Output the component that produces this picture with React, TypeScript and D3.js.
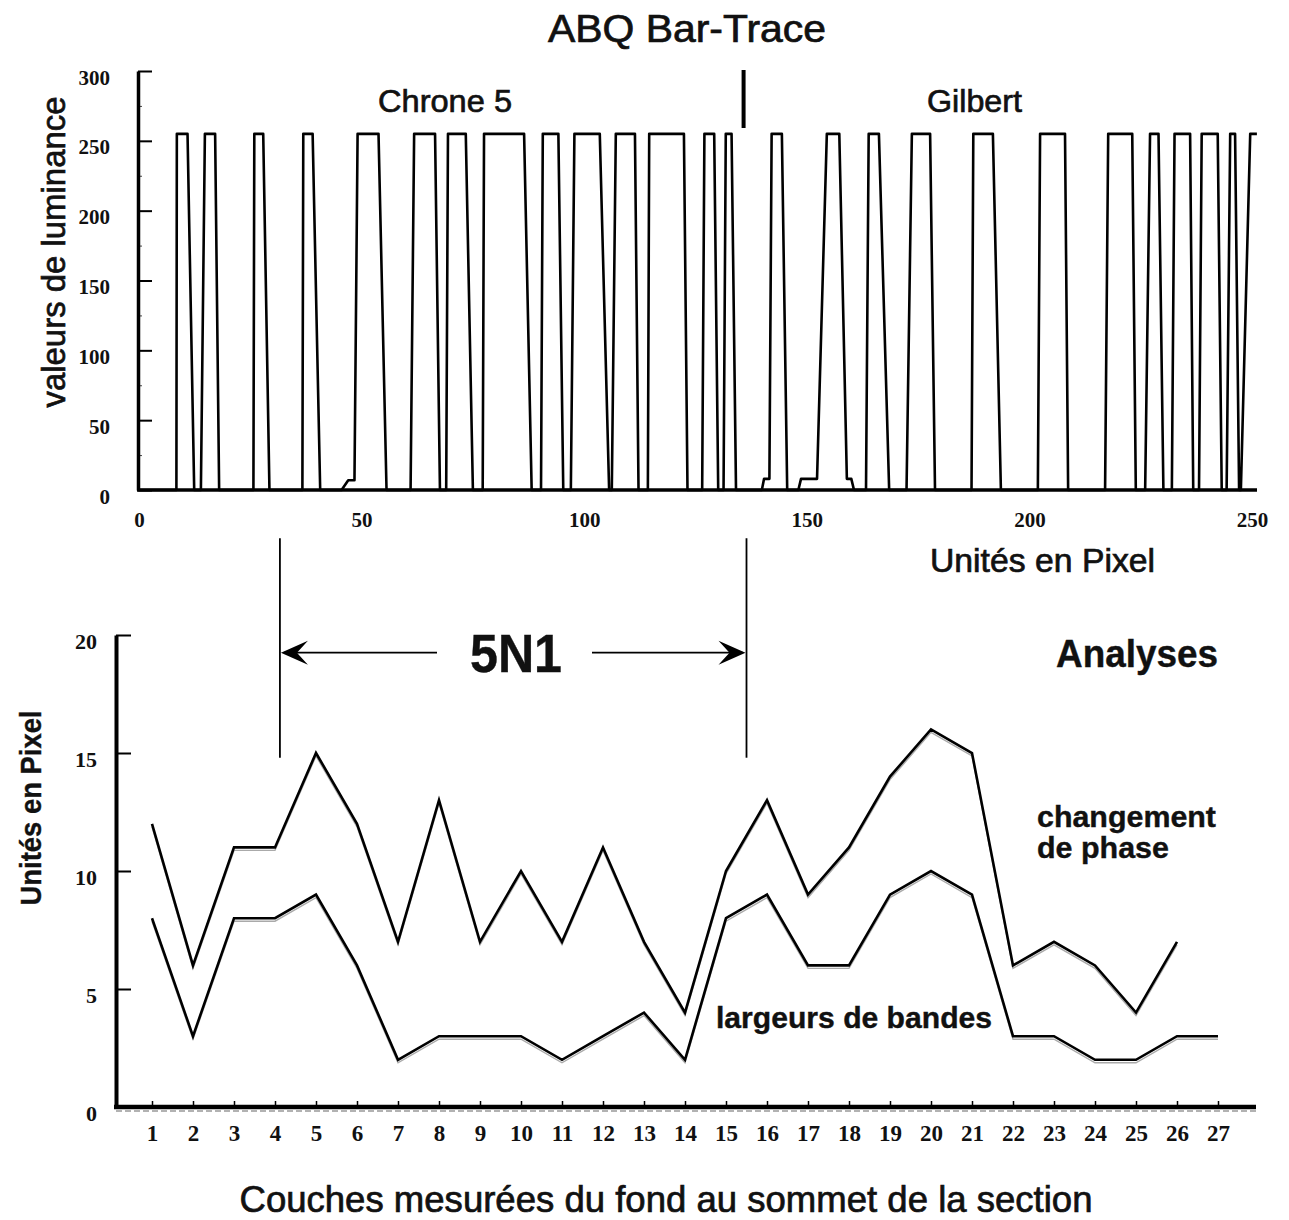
import React, { useEffect, useRef } from 'react';
import * as d3 from 'd3';

// Top panel: luminance bar-trace, [pixel unit, luminance]
const tracePoints: [number, number][] = [
  [0, 0],
  [8.4, 0], [8.5, 255], [10.9, 255], [12.4, 0],
  [13.9, 0], [14.8, 255], [17.1, 255], [18.0, 0],
  [25.7, 0], [25.9, 255], [27.9, 255], [29.3, 0],
  [36.7, 0], [36.9, 255], [39.0, 255], [40.7, 0],
  [45.5, 0], [47.0, 7], [48.4, 7], [49.1, 255], [53.8, 255], [55.6, 0],
  [61.0, 0], [61.8, 255], [66.5, 255], [67.6, 0],
  [69.0, 0], [69.4, 255], [73.4, 255], [75.0, 0],
  [77.2, 0], [77.5, 255], [86.5, 255], [88.2, 0],
  [90.3, 0], [90.7, 255], [94.2, 255], [95.3, 0],
  [97.0, 0], [97.8, 255], [103.5, 255], [105.6, 0],
  [106.2, 0], [107.1, 255], [111.4, 255], [112.2, 0],
  [114.3, 0], [114.6, 255], [122.4, 255], [123.2, 0],
  [126.5, 0], [127.0, 255], [129.2, 255], [130.1, 0],
  [131.3, 0], [131.8, 255], [133.1, 255], [134.1, 0],
  [139.9, 0], [140.4, 8], [141.6, 8], [142.1, 255], [144.4, 255], [145.6, 0],
  [148.1, 0], [148.7, 8], [152.3, 8], [154.5, 255], [157.3, 255], [159.0, 8], [160.0, 8], [160.6, 0],
  [163.3, 0], [163.9, 255], [166.2, 255], [168.5, 0],
  [172.4, 0], [173.6, 255], [177.7, 255], [178.8, 0],
  [187.0, 0], [187.4, 255], [191.8, 255], [193.6, 0],
  [201.9, 0], [202.4, 255], [208.0, 255], [208.7, 0],
  [217.0, 0], [217.7, 255], [223.1, 255], [223.9, 0],
  [226.0, 0], [227.1, 255], [229.0, 255], [230.1, 0],
  [232.0, 0], [232.6, 255], [236.1, 255], [236.8, 0],
  [238.1, 0], [238.7, 255], [242.3, 255], [243.2, 0],
  [244.3, 0], [245.1, 255], [246.2, 255], [247.1, 0],
  [247.5, 0], [249.6, 255], [251.1, 255],
];
const traceXTicks = [0, 50, 100, 150, 200, 250];
const traceYTicks = [0, 50, 100, 150, 200, 250, 300];
const traceYMinor = [25, 75, 125, 175, 225, 275];
const chroneGilbertBoundary = 135.8;

// Bottom panel: analyses per layer
const layers = [1, 2, 3, 4, 5, 6, 7, 8, 9, 10, 11, 12, 13, 14, 15, 16, 17, 18, 19, 20, 21, 22, 23, 24, 25, 26, 27];
const phaseChange = [12, 6, 11, 11, 15, 12, 7, 13, 7, 10, 7, 11, 7, 4, 10, 13, 9, 11, 14, 16, 15, 6, 7, 6, 4, 7];
const bandWidths = [8, 3, 8, 8, 9, 6, 2, 3, 3, 3, 2, 3, 4, 2, 8, 9, 6, 6, 9, 10, 9, 3, 3, 2, 2, 3, 3];
const analysisYTicks = [0, 5, 10, 15, 20];
const sectionBounds = [4.12, 15.5]; // 5N1 section, in layer units
const sectionLineSpan = [14.8, 24.1];
const arrowLevel = 19.25;

const SANS = "'Liberation Sans', Arial, Helvetica, sans-serif";
const SERIF = "'Liberation Serif', 'Times New Roman', serif";

const App = () => {
  const ref = useRef<SVGSVGElement | null>(null);

  useEffect(() => {
    const svg = d3.select(ref.current);
    svg.selectAll('*').remove();

    // ---------- top panel ----------
    const top = { left: 139, right: 1252, top: 71, bottom: 490 };
    const xTop = d3.scaleLinear().domain([0, 250]).range([top.left, top.right]);
    const yTop = d3.scaleLinear().domain([0, 300]).range([top.bottom, top.top]);

    // minor ticks
    svg
      .append('g')
      .attr('transform', 'translate(' + (top.left - 1) + ',0)')
      .call(d3.axisLeft(yTop).tickValues(traceYMinor).tickSize(-4).tickFormat(() => ''))
      .call(g => g.select('.domain').remove())
      .selectAll('line')
      .attr('stroke', '#444');

    const tickText = (sel: any, size: number) =>
      sel
        .attr('font-family', SERIF)
        .attr('font-weight', 'bold')
        .attr('font-size', size)
        .attr('fill', '#111')
        .attr('transform', 'scale(0.9,1.1)');

    const yAxisTop = svg
      .append('g')
      .attr('transform', 'translate(' + (top.left - 1) + ',0)')
      .call(d3.axisLeft(yTop).tickValues(traceYTicks).tickSize(-14).tickSizeOuter(0).tickPadding(28));
    yAxisTop.select('.domain').attr('stroke-width', 3.5);
    yAxisTop.selectAll('.tick line').attr('stroke-width', 2);
    yAxisTop
      .selectAll('.tick text')
      .attr('dy', '0.62em')
      .attr('font-family', SERIF)
      .attr('font-weight', 'bold')
      .attr('font-size', 21)
      .attr('fill', '#111');

    const xAxisTop = svg
      .append('g')
      .attr('transform', 'translate(0,' + top.bottom + ')')
      .call(d3.axisBottom(xTop).tickValues(traceXTicks).tickSize(0).tickPadding(22));
    xAxisTop.select('.domain').remove();
    xAxisTop
      .selectAll('.tick text')
      .attr('font-family', SERIF)
      .attr('font-weight', 'bold')
      .attr('font-size', 21)
      .attr('fill', '#111');

    // baseline
    svg
      .append('line')
      .attr('x1', top.left - 2)
      .attr('x2', top.right + 5)
      .attr('y1', top.bottom)
      .attr('y2', top.bottom)
      .attr('stroke', '#000')
      .attr('stroke-width', 3.5);

    // trace
    svg
      .append('path')
      .datum(tracePoints)
      .attr('fill', 'none')
      .attr('stroke', '#000')
      .attr('stroke-width', 2.6)
      .attr('stroke-linejoin', 'round')
      .attr(
        'd',
        d3
          .line<[number, number]>()
          .x(d => xTop(d[0]))
          .y(d => yTop(d[1]))
      );

    // Chrone / Gilbert boundary
    svg
      .append('line')
      .attr('x1', xTop(chroneGilbertBoundary))
      .attr('x2', xTop(chroneGilbertBoundary))
      .attr('y1', top.top - 1)
      .attr('y2', 128)
      .attr('stroke', '#000')
      .attr('stroke-width', 4);

    const label = (
      text: string,
      x: number,
      y: number,
      size: number,
      opts: { anchor?: string; weight?: string; rotate?: boolean; length?: number } = {}
    ) => {
      const t = svg
        .append('text')
        .attr('x', opts.rotate ? 0 : x)
        .attr('y', opts.rotate ? 0 : y)
        .attr('font-family', SANS)
        .attr('font-size', size)
        .attr('font-weight', opts.weight || 'normal')
        .attr('text-anchor', opts.anchor || 'start')
        .attr('fill', '#111')
        .attr('stroke', '#111')
        .attr('stroke-width', opts.weight === 'bold' ? 0.4 : 0.7)
        .text(text);
      if (opts.rotate) t.attr('transform', 'translate(' + x + ',' + y + ') rotate(-90)');
      if (opts.length) t.attr('textLength', opts.length).attr('lengthAdjust', 'spacingAndGlyphs');
      return t;
    };

    label('ABQ Bar-Trace', 687, 42, 38, { anchor: 'middle', length: 278 });
    label('Chrone 5', 378, 112, 32, { length: 134 });
    label('Gilbert', 927, 112, 32, { length: 95 });
    label('Unités en Pixel', 930, 572, 33, { length: 225 });
    label('valeurs de luminance', 65, 252, 33, { anchor: 'middle', rotate: true, length: 311 });

    // ---------- bottom panel ----------
    const bot = { axisX: 116, right: 1256, top: 635, bottom: 1107 };
    const xBot = d3.scaleLinear().domain([1, 27]).range([152, 1218]);
    const yBot = d3.scaleLinear().domain([0, 20]).range([bot.bottom, bot.top]);

    const yAxisBot = svg
      .append('g')
      .attr('transform', 'translate(' + bot.axisX + ',0)')
      .call(d3.axisLeft(yBot).tickValues(analysisYTicks).tickSize(-15).tickSizeOuter(0).tickPadding(19));
    yAxisBot.select('.domain').attr('stroke-width', 4);
    yAxisBot.selectAll('.tick line').attr('stroke-width', 2);
    yAxisBot
      .selectAll('.tick text')
      .attr('dy', '0.6em')
      .attr('font-family', SERIF)
      .attr('font-weight', 'bold')
      .attr('font-size', 22)
      .attr('fill', '#111');

    const xAxisBot = svg
      .append('g')
      .attr('transform', 'translate(0,' + bot.bottom + ')')
      .call(d3.axisBottom(xBot).tickValues(layers).tickSize(-6).tickPadding(18));
    xAxisBot.select('.domain').remove();
    xAxisBot.selectAll('.tick line').attr('stroke-width', 1.5);
    xAxisBot
      .selectAll('.tick text')
      .attr('font-family', SERIF)
      .attr('font-weight', 'bold')
      .attr('font-size', 23)
      .attr('fill', '#111');

    svg
      .append('line')
      .attr('x1', bot.axisX - 2)
      .attr('x2', bot.right)
      .attr('y1', bot.bottom)
      .attr('y2', bot.bottom)
      .attr('stroke', '#000')
      .attr('stroke-width', 4.5);
    svg
      .append('line')
      .attr('x1', bot.axisX)
      .attr('x2', bot.right)
      .attr('y1', bot.bottom + 4)
      .attr('y2', bot.bottom + 4)
      .attr('stroke', '#999')
      .attr('stroke-width', 1.5)
      .attr('stroke-dasharray', '6 3');

    const series = [phaseChange, bandWidths];
    const line = d3
      .line<number>()
      .x((d, i) => xBot(layers[i]))
      .y(d => yBot(d));

    // scan shadow under lines
    svg
      .selectAll('.shadow')
      .data(series)
      .enter()
      .append('path')
      .attr('fill', 'none')
      .attr('stroke', '#aaa')
      .attr('stroke-width', 1.4)
      .attr('transform', 'translate(0,3)')
      .attr('d', d => line(d));

    svg
      .selectAll('.series')
      .data(series)
      .enter()
      .append('path')
      .attr('fill', 'none')
      .attr('stroke', '#000')
      .attr('stroke-width', 2.6)
      .attr('stroke-linejoin', 'miter')
      .attr('d', d => line(d));

    // 5N1 section markers
    svg
      .selectAll('.section')
      .data(sectionBounds)
      .enter()
      .append('line')
      .attr('x1', d => xBot(d))
      .attr('x2', d => xBot(d))
      .attr('y1', yBot(sectionLineSpan[1]))
      .attr('y2', yBot(sectionLineSpan[0]))
      .attr('stroke', '#000')
      .attr('stroke-width', 1.8);

    const ay = yBot(arrowLevel);
    const xl = xBot(sectionBounds[0]);
    const xr = xBot(sectionBounds[1]);
    svg
      .append('line')
      .attr('x1', xl + 4)
      .attr('x2', 437)
      .attr('y1', ay)
      .attr('y2', ay)
      .attr('stroke', '#000')
      .attr('stroke-width', 1.8);
    svg
      .append('line')
      .attr('x1', 592)
      .attr('x2', xr - 4)
      .attr('y1', ay)
      .attr('y2', ay)
      .attr('stroke', '#000')
      .attr('stroke-width', 1.8);

    const head = (tip: number, dir: number) => {
      const p = d3.path();
      p.moveTo(tip, ay);
      p.lineTo(tip + dir * 27, ay - 12);
      p.lineTo(tip + dir * 16, ay);
      p.lineTo(tip + dir * 27, ay + 12);
      p.closePath();
      svg.append('path').attr('d', p.toString()).attr('fill', '#000');
    };
    head(xl + 1, 1);
    head(xr - 1, -1);

    label('5N1', 516, 672, 54, { anchor: 'middle', weight: 'bold', length: 92 });
    label('Analyses', 1056, 667, 38, { weight: 'bold', length: 162 });
    label('changement', 1037, 827, 30, { weight: 'bold', length: 179 });
    label('de phase', 1037, 858, 30, { weight: 'bold', length: 132 });
    label('largeurs de bandes', 716, 1028, 30, { weight: 'bold', length: 276 });
    label('Unités en Pixel', 41, 808, 29, { anchor: 'middle', weight: 'bold', rotate: true, length: 195 });
    label('Couches mesurées du fond au sommet de la section', 666, 1212, 36, { anchor: 'middle', length: 853 });
  }, []);

  return (
    <svg
      ref={ref}
      width={1289}
      height={1220}
      style={{ position: 'absolute', left: 0, top: 0, background: '#fff' }}
    />
  );
};

export default App;
